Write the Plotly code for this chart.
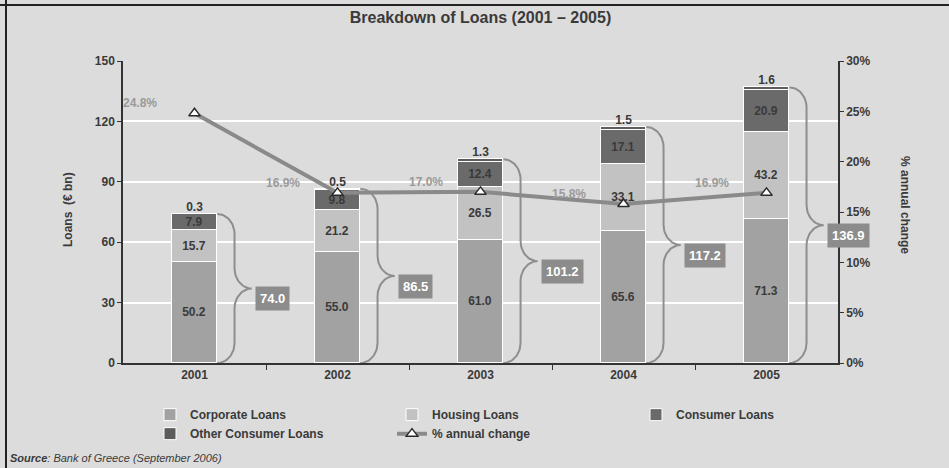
import numpy as np
import plotly.graph_objects as go

# ---- data -------------------------------------------------------------
years = ["2001", "2002", "2003", "2004", "2005"]
corporate = [50.2, 55.0, 61.0, 65.6, 71.3]
housing = [15.7, 21.2, 26.5, 33.1, 43.2]
consumer = [7.9, 9.8, 12.4, 17.1, 20.9]
other_consumer = [0.3, 0.5, 1.3, 1.5, 1.6]
totals = [74.0, 86.5, 101.2, 117.2, 136.9]
annual_change = [24.8, 16.9, 17.0, 15.8, 16.9]

# ---- style ------------------------------------------------------------
BG = "#dcdcdc"
C_CORP = "#a2a2a2"
C_HOUS = "#c2c2c2"
C_CONS = "#6a6a6a"
C_OTHER = "#5c5c5c"
C_LINE = "#8a8a8a"
C_TEXT = "#3a3a3a"
FONT = "Liberation Sans, Arial, sans-serif"
BAR_W = 0.32

xpos = np.arange(len(years))

fig = go.Figure()

def seg(name, vals, color, legend, show_text=True):
    fig.add_trace(go.Bar(
        x=xpos, y=vals, name=f"<b>{name}</b>", width=BAR_W, legend=legend,
        marker=dict(color=color, line=dict(color="white", width=1)),
        text=[f"<b>{v:.1f}</b>" for v in vals] if show_text else None,
        textposition="inside", insidetextanchor="middle", textangle=0,
        constraintext="none",
        textfont=dict(family=FONT, size=12, color=C_TEXT),
        hoverinfo="skip",
    ))

seg("Corporate Loans", corporate, C_CORP, "legend")
seg("Housing Loans", housing, C_HOUS, "legend2")
seg("Consumer Loans", consumer, C_CONS, "legend3")
seg("Other Consumer Loans", other_consumer, C_OTHER, "legend", show_text=False)

# labels for the thin top segment, just above each stack
stack_top = [c + h + k + o for c, h, k, o in zip(corporate, housing, consumer, other_consumer)]
fig.add_trace(go.Scatter(
    x=xpos, y=stack_top, mode="text",
    text=[f"<b>{v:.1f}</b>" for v in other_consumer],
    textposition="top center",
    textfont=dict(family=FONT, size=12, color=C_TEXT),
    showlegend=False, hoverinfo="skip",
))

# curly braces spanning each stack, from zero up to the total
def brace(x0, top, dx1=0.12, dx2=0.24, r=10.0, n=18):
    xm, xt, ym = x0 + dx1, x0 + dx2, top / 2.0
    th = np.linspace(0, np.pi / 2, n)
    xs, ys = [], []
    # upper corner: from bar top to the vertical stem
    xs += list(x0 + dx1 * np.sin(th)); ys += list(top - r + r * np.cos(th))
    # upper tip: stem curving out to the point
    xs += list(xm + (xt - xm) * (1 - np.cos(th))); ys += list(ym + r - r * np.sin(th))
    # lower tip
    xs += list(xt - (xt - xm) * np.sin(th)); ys += list(ym - r + r * np.cos(th))
    # lower corner back to the bar base
    xs += list(x0 + dx1 * np.cos(th)); ys += list(r - r * np.sin(th))
    return xs, ys

for i, t in enumerate(totals):
    bx, by = brace(xpos[i] + BAR_W / 2, t)
    fig.add_trace(go.Scatter(
        x=bx, y=by, mode="lines",
        line=dict(color="#8e8e8e", width=2),
        showlegend=False, hoverinfo="skip",
    ))
    fig.add_annotation(
        x=xpos[i] + 0.42, y=t / 2 + 1, xref="x", yref="y",
        text=f"<b>{t:.1f}</b>", showarrow=False,
        xanchor="left", yanchor="top",
        font=dict(family=FONT, size=13, color="white"),
        bgcolor="#8c8c8c", borderpad=4,
    )

# annual growth line on the secondary axis
fig.add_trace(go.Scatter(
    x=xpos, y=annual_change, name="<b>% annual change</b>", yaxis="y2",
    legend="legend2", mode="lines+markers",
    line=dict(color=C_LINE, width=4),
    marker=dict(symbol="triangle-up", size=10, color="white",
                line=dict(color="#2a2a2a", width=1.5)),
    hoverinfo="skip",
))
for i, v in enumerate(annual_change):
    fig.add_annotation(
        x=xpos[i], y=v, xref="x", yref="y2",
        text=f"<b>{v:.1f}%</b>", showarrow=False,
        xshift=-55, yshift=10,
        font=dict(family=FONT, size=12, color="#9a9a9a"),
    )

# ---- layout -----------------------------------------------------------
tick_font = dict(family=FONT, size=12, color=C_TEXT)

def legend_col(px):
    return dict(
        orientation="v", xref="container", yref="container",
        x=px / 949, xanchor="left", y=0.145, yanchor="top",
        bgcolor="rgba(0,0,0,0)", traceorder="normal",
        itemwidth=30, tracegroupgap=0,
        font=dict(family=FONT, size=12, color=C_TEXT),
    )

fig.update_layout(
    width=949, height=468,
    paper_bgcolor=BG, plot_bgcolor=BG,
    barmode="stack", bargap=0.0,
    margin=dict(l=123, r=111, t=61, b=105, autoexpand=False),
    font=dict(family=FONT, color=C_TEXT),
    title=dict(text="<b>Breakdown of Loans (2001 – 2005)</b>",
               x=0.5, xanchor="center", xref="paper", y=0.962, yanchor="middle",
               font=dict(family=FONT, size=16, color="#3a3a3a")),
    xaxis=dict(
        range=[-0.5, 4.5], tickmode="array", tickvals=list(xpos),
        ticktext=[f"<b>{y}</b>" for y in years],
        ticks="", showgrid=False, zeroline=False,
        showline=True, linecolor="#333333", linewidth=1.5,
        tickfont=tick_font,
        minor=dict(tickmode="array", tickvals=list(xpos[:-1] + 0.5),
                   ticks="outside", ticklen=5, tickcolor="#333333", showgrid=False),
    ),
    yaxis=dict(
        range=[0, 150], tickvals=[0, 30, 60, 90, 120, 150],
        ticktext=[f"<b>{v}</b>" for v in [0, 30, 60, 90, 120, 150]],
        ticks="outside", ticklen=4, tickcolor="#333333",
        showgrid=True, gridcolor="white", gridwidth=1.5,
        zeroline=False, showline=True, linecolor="#333333", linewidth=1.5,
        tickfont=tick_font,
    ),
    yaxis2=dict(
        overlaying="y", side="right", range=[0, 30],
        tickvals=[0, 5, 10, 15, 20, 25, 30],
        ticktext=[f"<b>{v}%</b>" for v in [0, 5, 10, 15, 20, 25, 30]],
        ticks="outside", ticklen=4, tickcolor="#333333",
        showgrid=False, zeroline=False,
        showline=True, linecolor="#333333", linewidth=1.5,
        tickfont=tick_font,
    ),
    legend=legend_col(150),
    legend2=legend_col(392),
    legend3=legend_col(636),
    showlegend=True,
)

# axis titles
fig.add_annotation(
    x=68, y=210, text="<b>Loans  (€ bn)</b>",
    showarrow=False, textangle=-90, xanchor="center", yanchor="middle",
    font=dict(family=FONT, size=12, color=C_TEXT),
)
fig.add_annotation(
    x=905, y=205, text="<b>% annual change</b>", showarrow=False, textangle=90,
    xanchor="center", yanchor="middle",
    font=dict(family=FONT, size=12, color=C_TEXT),
)
# source line
fig.add_annotation(
    x=8, y=458, text="<b><i>Source</i></b><i>: Bank of Greece (September 2006)</i>",
    showarrow=False, xanchor="left", yanchor="middle",
    font=dict(family=FONT, size=11, color=C_TEXT),
)

# convert pixel-placed annotations to paper coordinates
W, H = 949, 468
L, R, T, B = 123, 111, 61, 105
pw, ph = W - L - R, H - T - B
for ann in fig.layout.annotations:
    if ann.xref in (None, "paper") and ann.yref in (None, "paper") and ann.x is not None and ann.x > 1.5:
        ann.update(xref="paper", yref="paper",
                   x=(ann.x - L) / pw, y=(H - B - ann.y) / ph)

# frame lines along the top and left edges
fig.add_shape(type="line", xref="paper", yref="paper",
              x0=(0 - L) / pw, x1=(W - L) / pw, y0=(H - B - 5) / ph, y1=(H - B - 5) / ph,
              line=dict(color="#222222", width=2))
fig.add_shape(type="line", xref="paper", yref="paper",
              x0=(6 - L) / pw, x1=(6 - L) / pw, y0=(H - B - 0) / ph, y1=(H - B - H) / ph,
              line=dict(color="#222222", width=2))

fig.write_html("out.html")
